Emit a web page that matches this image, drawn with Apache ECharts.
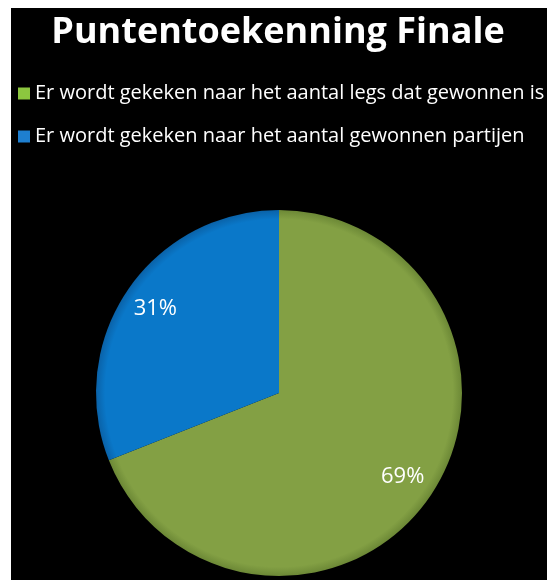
<!DOCTYPE html>
<html>
<head>
<meta charset="utf-8">
<script src="https://cdn.jsdelivr.net/npm/echarts@6/dist/echarts.min.js"></script>
<style>
html,body{margin:0;padding:0;background:#fff;}
#c{width:547px;height:580px;}
</style>
</head>
<body>
<div id="c"></div>
<script>
const titleText = 'Puntentoekenning Finale';
const categories = [
  'Er wordt gekeken naar het aantal legs dat gewonnen is',
  'Er wordt gekeken naar het aantal gewonnen partijen'
];
const values = [69, 31];
const colors = ['#83A044', '#0A78C9'];
const rims = ['#6C8836', '#0A62A8'];
const legendColors = ['#8CC63F', '#1E7FD0'];

const CX = 279, CY = 393, R = 183;
function sliceColor(c, rim) {
  return {
    type: 'radial', x: CX, y: CY, r: R, global: true,
    colorStops: [
      { offset: 0, color: c },
      { offset: 0.95, color: c },
      { offset: 1, color: rim }
    ]
  };
}

const chart = echarts.init(document.getElementById('c'), null, { renderer: 'canvas' });
const font = '"Open Sans", "DejaVu Sans", sans-serif';
chart.setOption({
  backgroundColor: '#fff',
  animation: false,
  graphic: [{
    type: 'rect', z: -10, silent: true,
    shape: { x: 11, y: 8, width: 536, height: 572 },
    style: { fill: '#000' }
  }],
  title: {
    text: titleText,
    left: 273, textAlign: 'center',
    top: 10,
    textStyle: { color: '#fff', fontSize: 36, fontWeight: 'bold', fontFamily: font }
  },
  legend: {
    orient: 'vertical',
    left: 13, top: 77,
    itemWidth: 12, itemHeight: 12,
    itemGap: 20,
    itemTextGap: 6,
    icon: 'rect',
    textStyle: { color: '#fff', fontSize: 20, fontFamily: font, lineHeight: 23 },
    data: categories.map((n, i) => ({ name: n, itemStyle: { color: legendColors[i] } })),
    selectedMode: false
  },
  series: [{
    type: 'pie',
    center: [CX, CY],
    radius: [0, R],
    startAngle: 90,
    clockwise: true,
    label: { show: false },
    labelLine: { show: false },
    emphasis: { disabled: true },
    itemStyle: { borderWidth: 0 },
    data: categories.map((n, i) => ({
      name: n, value: values[i],
      itemStyle: { color: sliceColor(colors[i], rims[i]) }
    }))
  }, {
    type: 'pie',
    center: [CX, CY],
    radius: [110, R],
    startAngle: 90,
    clockwise: true,
    silent: true,
    emphasis: { disabled: true },
    itemStyle: { color: 'rgba(0,0,0,0)', borderWidth: 0 },
    label: {
      show: true, position: 'inside',
      formatter: '{c}%',
      color: '#fff', fontSize: 22, fontFamily: font
    },
    labelLine: { show: false },
    data: categories.map((n, i) => ({ name: n, value: values[i] }))
  }]
});
</script>
</body>
</html>
